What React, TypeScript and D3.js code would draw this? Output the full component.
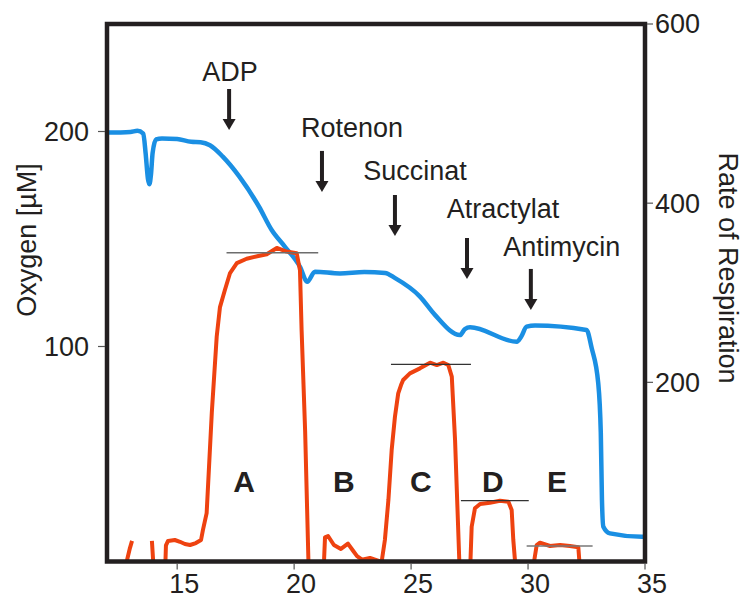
import React, { useEffect, useRef } from "react";
import * as d3 from "d3";

// time axis (min) and tick labels
const timeTicks = [15, 20, 25, 30, 35];
const oxygenTicks = [100, 200];
const rateTicks = [200, 400, 600];

// oxygen trace [time, µM]
const oxygenTime = [
  12.0, 13.0, 13.3, 13.55, 13.65, 13.75, 13.81, 13.88, 13.95, 14.1, 14.35, 15.0, 15.6, 16.0, 16.4,
  16.95, 17.66, 18.5, 19.04, 19.6, 20.25, 20.56, 20.89, 21.96, 23.0, 23.89, 24.3, 25.38, 26.02,
  27.09, 27.3, 27.52, 29.52, 29.7, 29.94, 30.3, 32.5, 32.72, 33.0, 33.11, 33.16, 33.22, 33.5,
  34.87, 35.0,
];
const oxygenValue = [
  199.5, 199.8, 200.3, 199, 190, 178, 175.5, 180, 190, 196.3, 196.8, 196.5, 195.2, 195, 193.6,
  188.3, 179, 165, 154.2, 146.5, 137.1, 130.1, 134.8, 134, 134.6, 134.2, 131.9, 123.2, 114.7,
  105.3, 108.1, 108.9, 102.2, 104.4, 109.2, 109.8, 107.7, 99.3, 83, 59.8, 28.6, 16.2, 13.1,
  11.5, 11.5,
];

// respiration rate trace [time, rate]; null marks a gap in the recording
const rateTime = [
  12.68, 12.86, 12.98, 13.07, null,
  13.92, 13.97, 13.99, null,
  14.48, 14.52, 14.61, 14.9, 15.12, 15.33, 15.55, 15.8, 16.02, 16.1, 16.26, 16.48, 16.69, 16.83,
  17.04, 17.26, 17.55, 17.97, 18.47, 18.83, 19.26, 19.68, 20.11, 20.25, 20.32, 20.47, 20.61, 20.64, null,
  21.23, 21.28, 21.32, 21.45, 21.7, 22.0, 22.3, 22.52, 22.69, 22.9, 23.24, 23.46, 23.74, 23.88,
  24.03, 24.17, 24.31, 24.45, 24.57, 24.66, 24.95, 25.38, 25.81, 26.1, 26.38, 26.59, 26.74, 26.88,
  26.98, 27.06, 27.08, null,
  27.52, 27.54, 27.59, 27.73, 27.95, 28.37, 28.8, 29.16, 29.3, 29.37, 29.44, 29.46, null,
  30.26, 30.27, 30.37, 30.51, 30.94, 31.37, 31.79, 32.15, 32.19, 32.2,
];
const rateValue = [
  -15, 2, 15, 23, null,
  23, 2, -15, null,
  -15, 18, 23, 24, 22, 19.5, 18.4, 20.6, 24, 35, 54, 166, 251, 284,
  303, 322, 333, 338, 341, 343, 350, 346, 344, 325, 258, 146, 2, -20, null,
  -15, 2, 27, 28.5, 18.4, 14, 20, 12, 6, 2, 4, 2, -0.5, 24,
  68.6, 124.4, 161.6, 187.7, 197, 202.6, 210, 215.6, 221.9, 219.3, 221.9, 219.3, 206.3, 135.6,
  61.2, 1.7, -15, null,
  -15, 2, 38.8, 59.4, 64.2, 65.6, 67.9, 66.7, 57.5, 24, 1.7, -15, null,
  -15, 2, 18.4, 21, 17.3, 18.4, 17.3, 15.8, 1.7, -15,
];

// plateau markers [start, end, rate]
const plateauStart = [17.11, 24.14, 27.13, 29.94];
const plateauEnd = [21.03, 27.56, 30.03, 32.76];
const plateauRate = [344.6, 220, 67.9, 17.3];
const plateauTone = ["#6d6d6d", "#333333", "#333333", "#777777"];

// phase letters
const phaseNames = ["A", "B", "C", "D", "E"];
const phaseTime = [17.86, 22.13, 25.42, 28.5, 31.24];

// additions: arrow tip at [time, oxygen]
const additionNames = ["ADP", "Rotenon", "Succinat", "Atractylat", "Antimycin"];
const additionTime = [17.22, 21.19, 24.31, 27.39, 30.12];
const additionOxygen = [200.7, 171.9, 151.4, 131.4, 117];
const additionLabelShift = [
  [1, -8],
  [30, -14],
  [20, -15],
  [36, -20],
  [31, -13],
];

const W = 742;
const H = 598;
const INK = "#231f20";
const BLUE = "#1a8fe3";
const RED = "#ee4210";
const FONT = "'Liberation Sans', Arial, sans-serif";

const App: React.FC = () => {
  const ref = useRef<SVGSVGElement | null>(null);

  useEffect(() => {
    if (!ref.current) return;
    const svg = d3.select(ref.current);
    svg.selectAll("*").remove();

    const left = 107;
    const right = 645;
    const top = 24;
    const bottom = 561.5;

    const x = d3.scaleLinear().domain([12, 35]).range([left, right]);
    const yO = d3.scaleLinear().domain([0, 250]).range([bottom, top]);
    const yR = d3.scaleLinear().domain([0, 600]).range([bottom, top]);

    svg
      .append("defs")
      .append("clipPath")
      .attr("id", "plot-clip")
      .append("rect")
      .attr("x", left)
      .attr("y", top)
      .attr("width", right - left)
      .attr("height", bottom - top);

    const plot = svg.append("g").attr("clip-path", "url(#plot-clip)");

    // oxygen trace
    const oxygen = oxygenTime.map((t, i) => [t, oxygenValue[i]] as [number, number]);
    plot
      .append("path")
      .datum(oxygen)
      .attr("fill", "none")
      .attr("stroke", BLUE)
      .attr("stroke-width", 4.5)
      .attr("stroke-linejoin", "round")
      .attr("stroke-linecap", "round")
      .attr(
        "d",
        d3
          .line<[number, number]>()
          .x(d => x(d[0]))
          .y(d => yO(d[1]))
          .curve(d3.curveMonotoneX)
      );

    // respiration trace
    const rate = rateTime.map((t, i) => [t, rateValue[i]] as [number | null, number | null]);
    plot
      .append("path")
      .datum(rate)
      .attr("fill", "none")
      .attr("stroke", RED)
      .attr("stroke-width", 4)
      .attr("stroke-linejoin", "round")
      .attr(
        "d",
        d3
          .line<[number | null, number | null]>()
          .defined(d => d[0] !== null && d[1] !== null)
          .x(d => x(d[0] as number))
          .y(d => yR(d[1] as number))
      );

    // plateau markers
    plot
      .selectAll(".plateau")
      .data(plateauRate)
      .enter()
      .append("line")
      .attr("x1", (_, i) => x(plateauStart[i]))
      .attr("x2", (_, i) => x(plateauEnd[i]))
      .attr("y1", d => yR(d))
      .attr("y2", d => yR(d))
      .attr("stroke", (_, i) => plateauTone[i])
      .attr("stroke-width", 1.4);

    // phase letters
    svg
      .selectAll(".phase")
      .data(phaseNames)
      .enter()
      .append("text")
      .attr("x", (_, i) => x(phaseTime[i]))
      .attr("y", yR(78))
      .attr("text-anchor", "middle")
      .attr("font-family", FONT)
      .attr("font-weight", "bold")
      .attr("font-size", 30)
      .attr("fill", INK)
      .text(d => d);

    // additions: arrows and names
    const adds = svg.append("g");
    additionNames.forEach((name, i) => {
      const ax = x(additionTime[i]);
      const tip = yO(additionOxygen[i]);
      const len = 41;
      const head = 11;
      adds
        .append("line")
        .attr("x1", ax)
        .attr("x2", ax)
        .attr("y1", tip - len)
        .attr("y2", tip - head + 1)
        .attr("stroke", INK)
        .attr("stroke-width", 4);
      adds
        .append("path")
        .attr("d", `M${ax - 6.5},${tip - head}L${ax + 6.5},${tip - head}L${ax},${tip}Z`)
        .attr("fill", INK);
      const [dx, dy] = additionLabelShift[i];
      adds
        .append("text")
        .attr("x", ax + dx)
        .attr("y", tip - len + dy)
        .attr("text-anchor", "middle")
        .attr("font-family", FONT)
        .attr("font-size", 27)
        .attr("fill", INK)
        .text(name);
    });

    // frame
    svg
      .append("rect")
      .attr("x", left)
      .attr("y", top)
      .attr("width", right - left)
      .attr("height", bottom - top)
      .attr("fill", "none")
      .attr("stroke", INK)
      .attr("stroke-width", 4.5);

    // bottom axis
    const xAxis = svg.append("g");
    timeTicks.forEach(t => {
      xAxis
        .append("line")
        .attr("x1", x(t))
        .attr("x2", x(t))
        .attr("y1", bottom + 2)
        .attr("y2", bottom + 8)
        .attr("stroke", "#555")
        .attr("stroke-width", 1.2);
      xAxis
        .append("text")
        .attr("x", x(t) + 7)
        .attr("y", bottom + 31)
        .attr("text-anchor", "middle")
        .attr("font-family", FONT)
        .attr("font-size", 27)
        .attr("fill", INK)
        .text(t);
    });

    // left axis
    const lAxis = svg.append("g");
    oxygenTicks.forEach(v => {
      lAxis
        .append("line")
        .attr("x1", left - 9)
        .attr("x2", left - 2)
        .attr("y1", yO(v))
        .attr("y2", yO(v))
        .attr("stroke", "#555")
        .attr("stroke-width", 1.2);
      lAxis
        .append("text")
        .attr("x", left - 18)
        .attr("y", yO(v))
        .attr("dy", "0.35em")
        .attr("text-anchor", "end")
        .attr("font-family", FONT)
        .attr("font-size", 27)
        .attr("fill", INK)
        .text(v);
    });

    // right axis
    const rAxis = svg.append("g");
    rateTicks.forEach(v => {
      rAxis
        .append("line")
        .attr("x1", right + 2)
        .attr("x2", right + 8)
        .attr("y1", yR(v))
        .attr("y2", yR(v))
        .attr("stroke", "#555")
        .attr("stroke-width", 1.2);
      rAxis
        .append("text")
        .attr("x", right + 10)
        .attr("y", yR(v))
        .attr("dy", "0.35em")
        .attr("text-anchor", "start")
        .attr("font-family", FONT)
        .attr("font-size", 27)
        .attr("fill", INK)
        .text(v);
    });

    // axis titles
    svg
      .append("text")
      .attr("transform", `translate(36,240) rotate(-90)`)
      .attr("text-anchor", "middle")
      .attr("font-family", FONT)
      .attr("font-size", 27)
      .attr("fill", INK)
      .text("Oxygen [µM]");

    svg
      .append("text")
      .attr("transform", `translate(719,268) rotate(90)`)
      .attr("text-anchor", "middle")
      .attr("font-family", FONT)
      .attr("font-size", 27)
      .attr("fill", INK)
      .text("Rate of Respiration");
  }, []);

  return (
    <svg
      ref={ref}
      width={W}
      height={H}
      style={{ position: "absolute", left: 0, top: 0, background: "#fff" }}
    />
  );
};

export default App;
